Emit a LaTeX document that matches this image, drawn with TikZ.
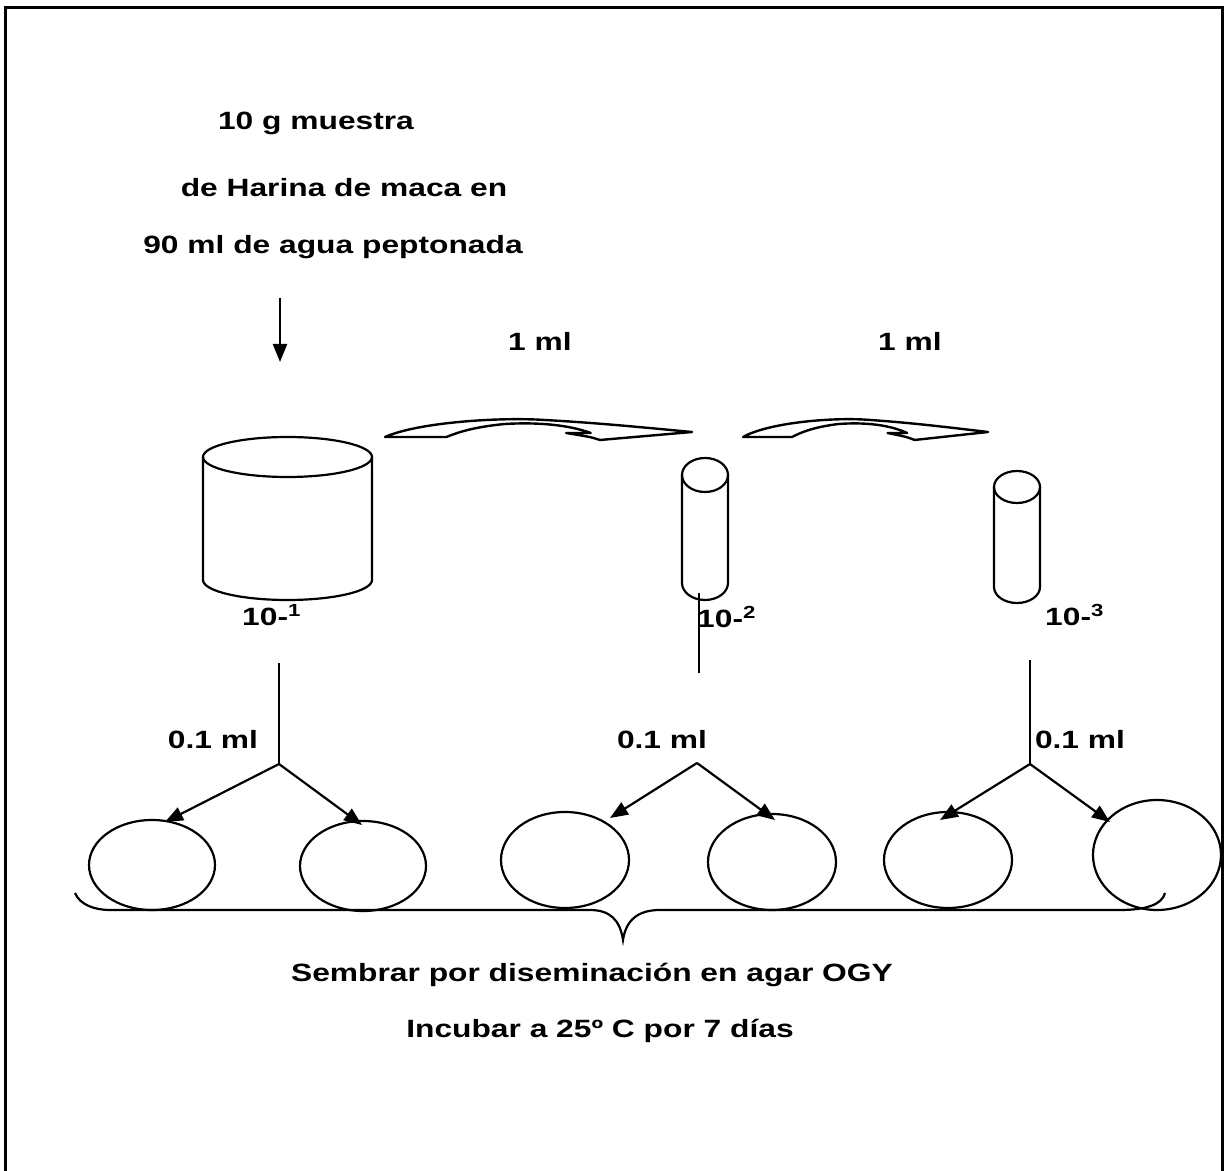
\documentclass[tikz,border=0pt]{standalone}
\usepackage{fontspec}
\setmainfont{Liberation Sans}
\usetikzlibrary{arrows.meta,shapes.geometric}
\newcommand\wtext[1]{\scalebox{1.27}[1]{#1}}
\tikzset{
  txt/.style={font=\bfseries\fontsize{12.5}{14}\selectfont, inner sep=0pt},
  ln/.style={line width=1.1pt},
  arr/.style={line width=1.1pt,-{Triangle[length=9pt,width=7pt]}},
  dish/.style={draw, ellipse, line width=1.1pt, inner sep=0pt},
  bandarrow/.style={draw, fill=white, line width=1.2pt, line join=round},
}
\newcommand\mlarrow[3]{% x0, width, name
  \begin{scope}[shift={(#1,0)}, xscale=#2/100]
    \path[bandarrow] (0,437) .. controls (11,422) and (38,417) .. (52,420)
      .. controls (70,423) and (86,428) .. (100,432)
      -- (70,440) .. controls (67,437) .. (59,433) -- (67,433)
      .. controls (60,425) and (50,422) .. (39,424)
      .. controls (29,427) and (24,432) .. (20,437) -- cycle;
    \coordinate (#3) at (50,430);
  \end{scope}}
\begin{document}
\begin{tikzpicture}[x=0.5pt,y=-0.5pt]
\useasboundingbox (0,0) rectangle (1227,1171);
% frame
\draw[line width=1.5pt] (5,1171) -- (5,8) -- (1222,8) -- (1222,1171);

% top texts
\node[txt] (t1) at (316,123) {\wtext{10 g muestra}};
\node[txt] (t2) at (344,188) {\wtext{de Harina de maca en}};
\node[txt] (t3) at (333,247) {\wtext{90 ml de agua peptonada}};
\coordinate (a0) at (280,298);
\coordinate (a1) at (280,362);
\draw[arr] (a0) -- (a1);

% 1 ml labels and transfer arrows
\node[txt] (m1) at (540,341) {\wtext{1 ml}};
\node[txt] (m2) at (910,341) {\wtext{1 ml}};
\mlarrow{385}{307}{ta1}
\mlarrow{743}{245}{ta2}

% big container
\draw[ln] (203,457) -- (203,580) arc[start angle=180,end angle=0,x radius=84.5,y radius=20] -- (372,457);
\draw[ln] (287.5,457) ellipse[x radius=84.5,y radius=20];
% tube 2
\draw[ln] (682,475) -- (682,583) arc[start angle=180,end angle=0,x radius=23,y radius=17] -- (728,475);
\draw[ln] (705,475) ellipse[x radius=23,y radius=17];
% tube 3
\draw[ln] (994,487) -- (994,587) arc[start angle=180,end angle=0,x radius=23,y radius=16] -- (1040,487);
\draw[ln] (1017,487) ellipse[x radius=23,y radius=16];

% dilution labels
\node[txt] (d1) at (272,615) {\wtext{10-\textsuperscript{1}}};
\node[txt] (d2) at (727,617) {\wtext{10-\textsuperscript{2}}};
\node[txt] (d3) at (1075,615) {\wtext{10-\textsuperscript{3}}};

% vertical lines
\coordinate (v1a) at (279,663); \coordinate (v1b) at (279,764);
\coordinate (v2a) at (699,593); \coordinate (v2b) at (699,673);
\coordinate (v3a) at (1030,660); \coordinate (v3b) at (1030,764);
\coordinate (b2) at (697,763);
\draw[ln] (v1a) -- (v1b);
\draw[ln] (v2a) -- (v2b);
\draw[ln] (v3a) -- (v3b);

% 0.1 ml labels
\node[txt] (p1) at (213,740) {\wtext{0.1 ml}};
\node[txt] (p2) at (662,740) {\wtext{0.1 ml}};
\node[txt] (p3) at (1080,740) {\wtext{0.1 ml}};

% dishes
\node[dish, minimum width=126pt*0.5, minimum height=90pt*0.5] (e1) at (152,865) {};
\node[dish, minimum width=126pt*0.5, minimum height=90pt*0.5] (e2) at (363,866) {};
\node[dish, minimum width=128pt*0.5, minimum height=96pt*0.5] (e3) at (565,860) {};
\node[dish, minimum width=128pt*0.5, minimum height=96pt*0.5] (e4) at (772,862) {};
\node[dish, minimum width=128pt*0.5, minimum height=96pt*0.5] (e5) at (948,860) {};
\node[dish, minimum width=128pt*0.5, minimum height=110pt*0.5] (e6) at (1157,855) {};

% branch arrows
\coordinate (k1) at (165,822); \coordinate (k2) at (362,825);
\coordinate (k3) at (610,818); \coordinate (k4) at (775,820);
\coordinate (k5) at (940,820); \coordinate (k6) at (1110,822);
\draw[arr] (v1b) -- (k1); \draw[arr] (v1b) -- (k2);
\draw[arr] (b2) -- (k3); \draw[arr] (b2) -- (k4);
\draw[arr] (v3b) -- (k5); \draw[arr] (v3b) -- (k6);

% brace
\draw[ln] (75,893) .. controls (80,905) and (95,910) .. (110,910) -- (590,910)
  .. controls (610,910) and (620,920) .. (623,940)
  .. controls (626,920) and (638,910) .. (660,910) -- (1120,910)
  .. controls (1145,910) and (1162,905) .. (1165,893);

% bottom texts
\node[txt] (s1) at (592,975) {\wtext{Sembrar por diseminación en agar OGY}};
\node[txt] (s2) at (600,1031) {\wtext{Incubar a 25º C por 7 días}};
\end{tikzpicture}
\end{document}
